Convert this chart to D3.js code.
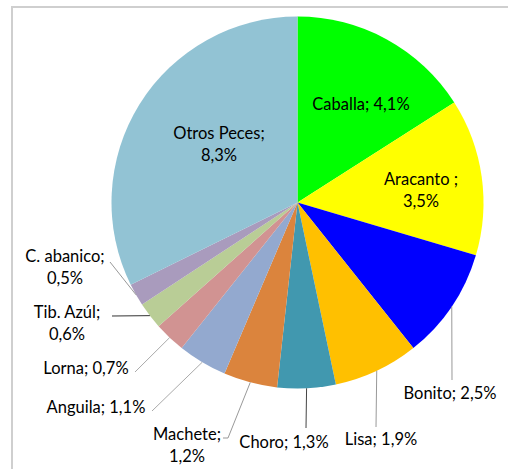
<!DOCTYPE html>
<html>
<head>
<meta charset="utf-8">
<script src="https://cdn.jsdelivr.net/npm/d3@7"></script>
<style>
  body { margin: 0; background: #fff; }
  svg { display: block; font-family: Lato, "Open Sans", sans-serif; }
</style>
</head>
<body>
<div id="chart"></div>
<script>
const species = ['Caballa', 'Aracanto ', 'Bonito', 'Lisa', 'Choro', 'Machete', 'Anguila', 'Lorna', 'Tib. Azúl', 'C. abanico', 'Otros Peces'];
const percents = [4.1, 3.5, 2.5, 1.9, 1.3, 1.2, 1.1, 0.7, 0.6, 0.5, 8.3];
const sliceColors = ['#00ff00', '#ffff00', '#0000ff', '#ffc000', '#4198af', '#db843d', '#93a9cf', '#d19392', '#b9cd96', '#a99bbd', '#92c3d4'];

const width = 508;
const height = 469;
const cx = 297.5, cy = 202.5;
const radius = 186;

// label placement: text centre x, first line y (middle), split into lines, leader end
const labelLayout = [
  { x: 361, y: 104, split: false },
  { x: 421, y: 179, split: true },
  { x: 450, y: 393, split: false, leader: [452, 380], lc: '#999' },
  { x: 381, y: 439, split: false, leader: [376, 427], lc: '#999' },
  { x: 284, y: 442, split: false, leader: [306, 428], lc: '#444' },
  { x: 187, y: 434, split: true, leader: [228, 438], hook: 223, lc: '#999' },
  { x: 96, y: 407, split: false, leader: [152, 411], lc: '#aaa' },
  { x: 86, y: 368, split: false, leader: [135, 372], lc: '#aaa' },
  { x: 67, y: 312, split: true, leader: [112, 316], lc: '#333' },
  { x: 65, y: 256, split: true, leader: [110, 262], lc: '#999' },
  { x: 219, y: 133, split: true }
];

const fmt = v => v.toFixed(1).replace('.', ',') + '%';

const svg = d3.select('#chart').append('svg')
  .attr('width', width)
  .attr('height', height);

// chart frame (runs past the right/bottom edge)
svg.append('rect')
  .attr('x', 12).attr('y', 7)
  .attr('width', 600).attr('height', 600)
  .attr('fill', 'none')
  .attr('stroke', '#cfcfcf')
  .attr('stroke-width', 2);

const data = species.map((name, i) => ({ name, value: percents[i], color: sliceColors[i], layout: labelLayout[i] }));

const pie = d3.pie().sort(null).value(d => d.value);
const arcs = pie(data);

const arc = d3.arc().innerRadius(0).outerRadius(radius);

const g = svg.append('g').attr('transform', `translate(${cx},${cy})`);

g.selectAll('path.slice')
  .data(arcs)
  .enter()
  .append('path')
  .attr('class', 'slice')
  .attr('d', arc)
  .attr('fill', d => d.data.color);

// leader lines from the outer edge at mid angle
arcs.forEach(d => {
  const L = d.data.layout;
  if (!L.leader) return;
  const mid = (d.startAngle + d.endAngle) / 2;
  const sx = cx + radius * Math.sin(mid);
  const sy = cy - radius * Math.cos(mid);
  const pts = [[sx, sy], L.leader];
  if (L.hook) pts.push([L.hook, L.leader[1]]);
  svg.append('path')
    .attr('d', d3.line()(pts))
    .attr('fill', 'none')
    .attr('stroke', L.lc)
    .attr('stroke-width', 1);
});

// labels
arcs.forEach(d => {
  const L = d.data.layout;
  const name = d.data.name + ';';
  const lines = L.split ? [name, fmt(d.data.value)] : [name + ' ' + fmt(d.data.value)];
  const t = svg.append('text')
    .attr('text-anchor', 'middle')
    .attr('fill', '#000')
    .style('font-size', '16.5px');
  lines.forEach((s, i) => {
    t.append('tspan')
      .attr('x', L.x)
      .attr('y', L.y + i * 22)
      .attr('dy', '0.35em')
      .text(s);
  });
});
</script>
</body>
</html>
